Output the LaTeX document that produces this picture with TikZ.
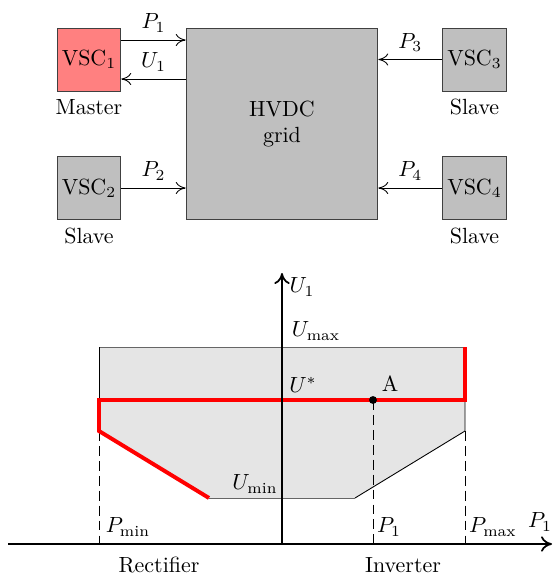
\documentclass[tikz,border=0pt]{standalone}
\usepackage{amsmath}
\usepackage{tikz}
\usetikzlibrary{arrows.meta, positioning}

\begin{document}
\begin{tikzpicture}[x=0.016cm, y=-0.016cm,
        conv/.style={draw=black!75, fill=black!25, minimum width=1.02cm, minimum height=1.01cm, inner sep=0pt},
        flow/.style={-{To[length=4.5pt,width=5.5pt]}},
        axis/.style={thick, -{To[length=5pt,width=7pt]}},
        guide/.style={dash pattern=on 4.5pt off 2.3pt},
        limit/.style={red, line width=1.8pt}]
    \useasboundingbox (0,0) rectangle (552,574);

    \node [conv, fill=red!50] (vsc1) at (89,59.5) {VSC$_1$};
    \node [conv] (vsc2) at (89,188) {VSC$_2$};
    \node [conv] (vsc3) at (474.5,59.5) {VSC$_3$};
    \node [conv] (vsc4) at (474.5,188) {VSC$_4$};
    \node [conv, minimum width=3.07cm, minimum height=3.07cm, align=center] (grid) at (282,124) {HVDC\\grid};

    \node [below=0pt of vsc1] (role1) {Master};
    \node [below=0pt of vsc2] (role2) {Slave};
    \node [below=0pt of vsc3] (role3) {Slave};
    \node [below=0pt of vsc4] (role4) {Slave};

    \draw [flow] (vsc1.east |- 0,40) -- (grid.west |- 0,40) node [midway, above] {$P_1$};
    \draw [flow] (grid.west |- 0,79) -- (vsc1.east |- 0,79) node [midway, above] {$U_1$};
    \draw [flow] (vsc2) -- (vsc2 -| grid.west) node [midway, above] {$P_2$};
    \draw [flow] (vsc3) -- (vsc3 -| grid.east) node [midway, above] {$P_3$};
    \draw [flow] (vsc4) -- (vsc4 -| grid.east) node [midway, above] {$P_4$};

    % operating region
    \fill [black!10] (99,347) -- (465,347) -- (465,431) -- (355,498) -- (209,498) -- (99,431) -- cycle;
    \draw [black!60] (99,347) -- (465,347);
    \draw [black!60] (209,498) -- (355,498);
    \draw (99,347) -- (99,400);
    \draw (465,400) -- (465,431) -- (355,498);
    \draw [guide] (99,431) -- (99,544);
    \draw [guide] (373,400) -- (373,544);
    \draw [guide] (465,431) -- (465,544);
    \draw [limit] (209,498) -- (99,431) -- (99,400) -- (465,400) -- (465,347);
    \fill (373,400) circle (1.8pt);

    \draw [axis] (8,544) -- (552,544);
    \draw [axis] (282,544) -- (282,273);

    \node at (302,287) {$U_1$};
    \node at (316,331) {$U_{\text{max}}$};
    \node at (303,385) {$U^*$};
    \node at (390,384) {A};
    \node at (255,484) {$U_{\text{min}}$};
    \node at (128,527) {$P_{\text{min}}$};
    \node at (389,527) {$P_1$};
    \node at (493,527) {$P_{\text{max}}$};
    \node at (540,522) {$P_1$};
    \node at (159,565) {Rectifier};
    \node at (403,565) {Inverter};
\end{tikzpicture}
\end{document}
